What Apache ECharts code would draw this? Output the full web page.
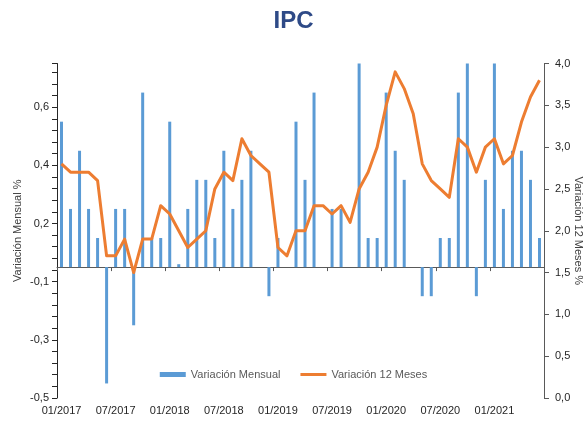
<!DOCTYPE html>
<html>
<head>
<meta charset="utf-8">
<script src="https://cdn.jsdelivr.net/npm/echarts@6/dist/echarts.min.js"></script>
<style>
html,body{margin:0;padding:0;background:#fff;}
#chart{width:587px;height:423px;}
</style>
</head>
<body>
<div id="chart"></div>
<script>
var months = [
  '01/2017','02/2017','03/2017','04/2017','05/2017','06/2017','07/2017','08/2017','09/2017','10/2017','11/2017','12/2017',
  '01/2018','02/2018','03/2018','04/2018','05/2018','06/2018','07/2018','08/2018','09/2018','10/2018','11/2018','12/2018',
  '01/2019','02/2019','03/2019','04/2019','05/2019','06/2019','07/2019','08/2019','09/2019','10/2019','11/2019','12/2019',
  '01/2020','02/2020','03/2020','04/2020','05/2020','06/2020','07/2020','08/2020','09/2020','10/2020','11/2020','12/2020',
  '01/2021','02/2021','03/2021','04/2021','05/2021','06/2021'
];
var variacionMensual = [
  0.5, 0.2, 0.4, 0.2, 0.1, -0.4, 0.2, 0.2, -0.2, 0.6, 0.1, 0.1,
  0.5, 0.01, 0.2, 0.3, 0.3, 0.1, 0.4, 0.2, 0.3, 0.4, 0, -0.1,
  0.1, 0, 0.5, 0.3, 0.6, 0, 0.2, 0.2, 0, 0.7, 0.1, 0.1,
  0.6, 0.4, 0.3, 0, -0.1, -0.1, 0.1, 0.1, 0.6, 0.7, -0.1, 0.3,
  0.7, 0.2, 0.4, 0.4, 0.3, 0.1
];
var variacion12Meses = [
  2.8, 2.7, 2.7, 2.7, 2.6, 1.7, 1.7, 1.9, 1.5, 1.9, 1.9, 2.3,
  2.2, 2.0, 1.8, 1.9, 2.0, 2.5, 2.7, 2.6, 3.1, 2.9, 2.8, 2.7,
  1.8, 1.7, 2.0, 2.0, 2.3, 2.3, 2.2, 2.3, 2.1, 2.5, 2.7, 3.0,
  3.5, 3.9, 3.7, 3.4, 2.8, 2.6, 2.5, 2.4, 3.1, 3.0, 2.7, 3.0,
  3.1, 2.8, 2.9, 3.3, 3.6, 3.8
];
var leftTickLabels = ['-0,5', '-0,3', '-0,1', '0,2', '0,4', '0,6'];
var rightTickLabels = ['0,0', '0,5', '1,0', '1,5', '2,0', '2,5', '3,0', '3,5', '4,0'];

var LEFT_MIN = -0.45, LEFT_MAX = 0.7, LEFT_STEP = 0.2;
var FONT = '"Liberation Sans", Arial, sans-serif';

var chart = echarts.init(document.getElementById('chart'), null, {renderer: 'canvas'});
chart.setOption({
  animation: false,
  backgroundColor: '#ffffff',
  title: {
    text: 'IPC',
    left: 'center',
    top: 4,
    textStyle: {fontFamily: FONT, fontSize: 24, fontWeight: 'bold', color: '#2E4A87'}
  },
  legend: {
    top: 364,
    left: 'center',
    itemWidth: 26,
    itemHeight: 5,
    itemGap: 20,
    textStyle: {fontFamily: FONT, fontSize: 11, color: '#595959'},
    data: [
      {name: 'Variación Mensual', icon: 'rect'},
      {name: 'Variación 12 Meses', icon: 'path://M0,1H26V4H0Z'}
    ]
  },
  grid: {left: 57, right: 43, top: 63.5, bottom: 25, containLabel: false, outerBoundsMode: 'none'},
  xAxis: [
    {
      type: 'category',
      data: months,
      position: 'top',
      boundaryGap: true,
      axisLine: {show: true, onZero: true, onZeroAxisIndex: 0, lineStyle: {color: '#595959', width: 1}},
      axisTick: {show: true, inside: true, length: 4, interval: 5, alignWithLabel: false, lineStyle: {color: '#595959'}},
      axisLabel: {show: false},
      splitLine: {show: false}
    },
    {
      type: 'category',
      data: months,
      position: 'bottom',
      boundaryGap: true,
      axisLine: {show: false, onZero: false},
      axisTick: {show: false},
      axisLabel: {show: true, interval: 5, margin: 7, fontFamily: FONT, fontSize: 11, color: '#262626'},
      splitLine: {show: false}
    }
  ],
  yAxis: [
    {
      type: 'value',
      position: 'left',
      min: LEFT_MIN,
      max: LEFT_MAX,
      interval: LEFT_STEP,
      name: 'Variación Mensual %',
      nameLocation: 'middle',
      nameGap: 34,
      nameMoveOverlap: false,
      nameTextStyle: {fontFamily: FONT, fontSize: 11, color: '#404040'},
      axisLine: {show: true, lineStyle: {color: '#262626', width: 1}},
      axisTick: {show: true, length: 5, lineStyle: {color: '#262626'}},
      minorTick: {show: true, splitNumber: 5, length: 5, lineStyle: {color: '#262626'}},
      axisLabel: {
        margin: 8,
        fontFamily: FONT, fontSize: 11, color: '#262626',
        formatter: function (v) {
          var i = Math.round((v - LEFT_MIN) / LEFT_STEP);
          if (Math.abs(v - (LEFT_MIN + i * LEFT_STEP)) < 1e-6 && i >= 0 && i < leftTickLabels.length) {
            return leftTickLabels[i];
          }
          return '';
        }
      },
      splitLine: {show: false}
    },
    {
      type: 'value',
      position: 'right',
      min: 0,
      max: 4,
      interval: 0.5,
      name: 'Variación 12 Meses %',
      nameLocation: 'middle',
      nameGap: 29,
      nameMoveOverlap: false,
      nameRotate: -90,
      nameTextStyle: {fontFamily: FONT, fontSize: 11, color: '#404040'},
      axisLine: {show: true, lineStyle: {color: '#595959', width: 1}},
      axisTick: {show: true, length: 5, lineStyle: {color: '#595959'}},
      axisLabel: {
        margin: 11,
        fontFamily: FONT, fontSize: 11, color: '#262626',
        formatter: function (v) {
          var i = Math.round(v / 0.5);
          return (i >= 0 && i < rightTickLabels.length) ? rightTickLabels[i] : '';
        }
      },
      splitLine: {show: false}
    }
  ],
  series: [
    {
      name: 'Variación Mensual',
      type: 'bar',
      xAxisIndex: 0,
      yAxisIndex: 0,
      data: variacionMensual,
      barWidth: 3,
      itemStyle: {color: '#5B9BD5'},
      clip: true
    },
    {
      name: 'Variación 12 Meses',
      type: 'line',
      xAxisIndex: 0,
      yAxisIndex: 1,
      data: variacion12Meses,
      symbol: 'none',
      showSymbol: false,
      lineStyle: {color: '#ED7D31', width: 3, join: 'round'},
      itemStyle: {color: '#ED7D31'},
      z: 3
    }
  ]
});
</script>
</body>
</html>
